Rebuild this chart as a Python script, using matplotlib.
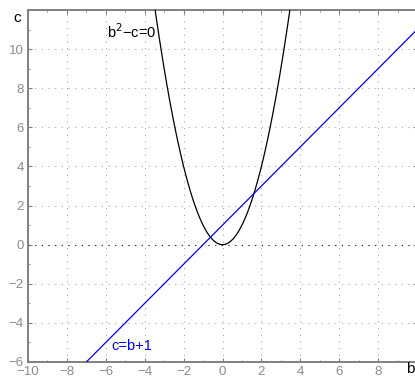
import numpy as np
import matplotlib.pyplot as plt
from matplotlib.ticker import MultipleLocator

plt.rcParams['font.family'] = ['Liberation Sans', 'DejaVu Sans']

# data
b_min, b_max = -10, 10
c_min, c_max = -6, 12
x_ticks = [-10, -8, -6, -4, -2, 0, 2, 4, 6, 8]
y_ticks = [-6, -4, -2, 0, 2, 4, 6, 8, 10]
parab_label = "b$^2$\u2212c=0"
line_label = "c=b+1"

fig = plt.figure(figsize=(4.15, 3.76), dpi=100)
ax = fig.add_axes([28/415, 14/376, 389/415, 352/376])

grey = '#808080'
bb = np.linspace(-np.sqrt(c_max), np.sqrt(c_max), 400)
ax.plot(bb, bb**2, color='black', lw=0.9, zorder=3)
bl = np.linspace(b_min, b_max, 2)
ax.plot(bl, bl + 1, color='#0000ff', lw=0.9, zorder=3)

ax.set_xlim(b_min, b_max)
ax.set_ylim(c_min, c_max)
ax.set_xticks(x_ticks)
ax.set_yticks(y_ticks)
ax.set_xticklabels([str(t).replace('-', '\u2212') for t in x_ticks])
ax.set_yticklabels([str(t).replace('-', '\u2212') for t in y_ticks])
ax.xaxis.set_minor_locator(MultipleLocator(1))
ax.yaxis.set_minor_locator(MultipleLocator(1))
ax.tick_params(which='both', direction='in', top=True, right=True,
               colors=grey, labelsize=9.5, labelcolor='#8c8c8c')
ax.tick_params(which='major', length=3, pad=3)
ax.tick_params(which='minor', length=1.5)
ax.grid(True, which='major', color='#a8a8a8', ls=(0, (1, 5)), lw=0.8)
ax.axhline(0, color='#202020', ls=(0, (1, 5)), lw=0.8, zorder=2)
for s in ax.spines.values():
    s.set_color(grey)
    s.set_linewidth(1.4)

fig.text(107/415, 1 - 32/376, parab_label, fontsize=10.5,
         va='center', ha='left', color='black')
fig.text(111/415, 1 - 346/376, line_label, fontsize=10.5,
         va='center', ha='left', color='#0000ff')
fig.text(17/415, 1 - 18/376, "c", fontsize=11, ha='center', va='center')
fig.text(410/415, 1 - 369/376, "b", fontsize=11, ha='center', va='center')

fig.savefig('out.png', dpi=100)
